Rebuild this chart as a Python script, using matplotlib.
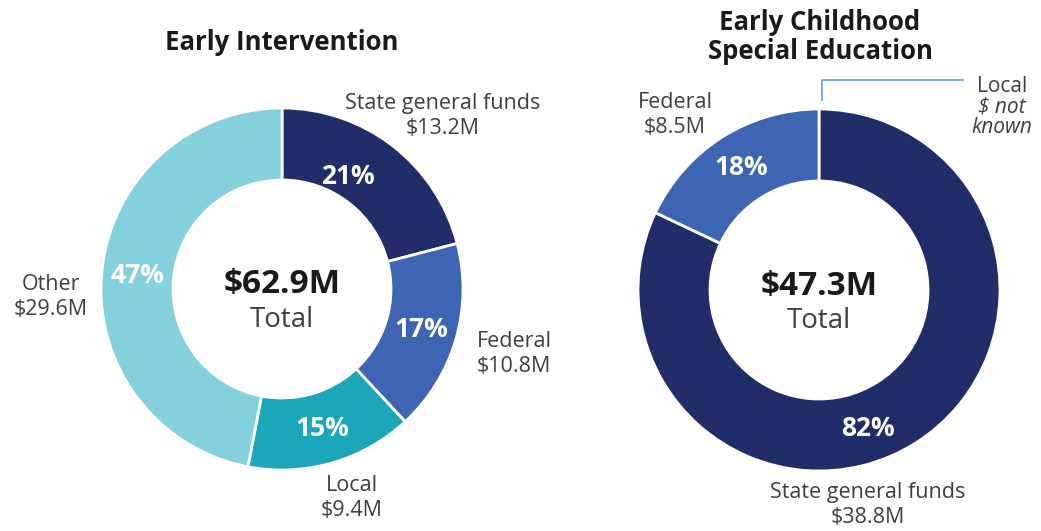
import matplotlib.pyplot as plt

plt.rcParams['font.family'] = ['Open Sans', 'DejaVu Sans']

# funding sources, in $ millions (clockwise from 12 o'clock)
ei_sources = ["State general funds", "Federal", "Local", "Other"]
ei_amounts = [13.2, 10.8, 9.4, 29.6]
ei_total = 62.9

ecse_sources = ["State general funds", "Federal"]
ecse_amounts = [38.8, 8.5]
ecse_total = 47.3

navy = "#202d69"
blue = "#3e64b4"
teal = "#1ca6ba"
light = "#84d1dd"
ei_colors = [navy, blue, teal, light]
ecse_colors = [navy, blue]

W, H = 1041, 531
fig = plt.figure(figsize=(W / 100, H / 100), dpi=100)
ax = fig.add_axes([0, 0, 1, 1])

label_grey = "#3f3f3f"
title_col = "#1a1a1a"


def y(p):
    # pixel row (from top) to axes coords
    return H - p


def donut(center, amounts, colors, total):
    wedges, texts, pcts = ax.pie(
        amounts, colors=colors, startangle=90, counterclock=False,
        center=center, radius=181, autopct='%.0f%%', pctdistance=0.8,
        wedgeprops=dict(width=72, edgecolor='white', linewidth=2),
        textprops=dict(color='white', fontsize=19, fontweight='bold'))
    for t in pcts:
        t.set_va('center')
        t.set_ha('center')
    ax.text(center[0], center[1] + 4, "$%.1fM" % total, ha='center', va='center',
            fontsize=24, fontweight='bold', color=title_col)
    ax.text(center[0], center[1] - 31, "Total", ha='center', va='center',
            fontsize=20, color=label_grey)
    return pcts


ei_c = (282, y(289))
ecse_c = (819, y(290))

ei_pcts = donut(ei_c, ei_amounts, ei_colors, ei_total)
ecse_pcts = donut(ecse_c, ecse_amounts, ecse_colors, ecse_total)

# nudge labels that sit off the wedge middle
ei_pcts[0].set_position((348, y(176)))
ecse_pcts[0].set_position((868, y(428)))

# titles
ax.text(282, y(42), "Early Intervention", ha='center', va='center',
        fontsize=18.5, fontweight='bold', color=title_col)
ax.text(820, y(37), "Early Childhood\nSpecial Education", ha='center', va='center',
        fontsize=18.5, fontweight='bold', color=title_col, linespacing=1.1)


# outside labels
def callout(x, yp, name, amount):
    ax.text(x, y(yp), "%s\n$%.1fM" % (name, amount), ha='center', va='center',
            fontsize=15.5, color=label_grey, linespacing=1.2)


callout(443, 116, ei_sources[0], ei_amounts[0])
callout(514, 354, ei_sources[1], ei_amounts[1])
callout(352, 498, ei_sources[2], ei_amounts[2])
callout(51, 297, ei_sources[3], ei_amounts[3])

callout(675, 115, ecse_sources[1], ecse_amounts[1])
callout(868, 505, ecse_sources[0], ecse_amounts[0])

ax.text(1002, y(86), "Local", ha='center', va='center', fontsize=15, color=label_grey)
ax.text(1002, y(117), "$ not\nknown", ha='center', va='center', fontsize=15,
        color=label_grey, style='italic', linespacing=1.0)
ax.plot([822, 822, 963], [y(100), y(80), y(80)], color="#6fa6d8", lw=1.3)

ax.set_xlim(0, W)
ax.set_ylim(0, H)
ax.set_aspect('equal')
ax.axis('off')

fig.savefig("out.png", dpi=100)
